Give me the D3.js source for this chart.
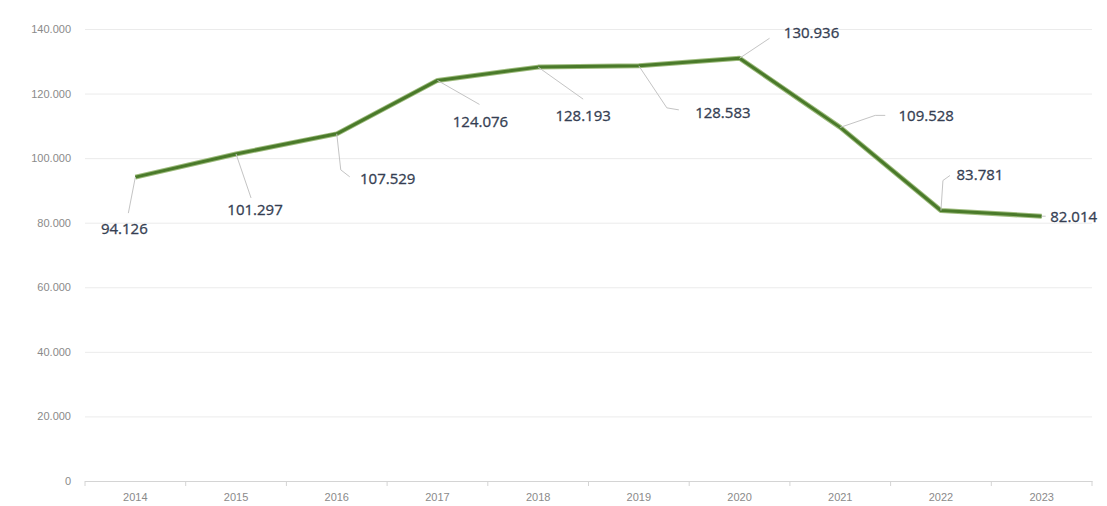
<!DOCTYPE html>
<html>
<head>
<meta charset="utf-8">
<script src="https://cdn.jsdelivr.net/npm/d3@7"></script>
<style>
  html, body { margin: 0; padding: 0; background: #fff; overflow: hidden; }
</style>
</head>
<body>
<div id="chart"></div>
<script>
// Data
const years = ["2014", "2015", "2016", "2017", "2018", "2019", "2020", "2021", "2022", "2023"];
const values = [94126, 101297, 107529, 124076, 128193, 128583, 130936, 109528, 83781, 82014];
const yTicks = [0, 20000, 40000, 60000, 80000, 100000, 120000, 140000];

// Layout config
const width = 1107;
const height = 506;
const margin = { top: 29, right: 15, bottom: 25, left: 85 };

// label placement relative to the point: [dx, dy] of text centre, leader polyline offsets
const labelLayout = [
    { dx: -11, dy: 53, leader: [[0, 0], [-7, 36]] },
    { dx: 19, dy: 57, leader: [[0, 0], [15, 44]] },
    { dx: 51, dy: 46, leader: [[0, 0], [4, 36], [13, 43]] },
    { dx: 43, dy: 43, leader: [[0, 0], [42, 24]] },
    { dx: 45, dy: 50, leader: [[0, 0], [45, 32]] },
    { dx: 84, dy: 48, leader: [[0, 0], [28, 42], [40, 44]] },
    { dx: 72, dy: -24, leader: [[0, 0], [30, -20]] },
    { dx: 86, dy: -10, leader: [[0, 0], [35, -12], [45, -12]] },
    { dx: 39, dy: -35, leader: [[0, 0], [2, -30], [9, -35]] },
    { dx: 32, dy: 2, leader: [[0, 0], [4, 0]] }
];

const svg = d3.select("#chart")
    .append("svg")
    .attr("width", width)
    .attr("height", height)
    .attr("font-family", "'Open Sans', 'Liberation Sans', sans-serif");

const x = d3.scaleBand()
    .domain(years)
    .range([margin.left, width - margin.right]);

const y = d3.scaleLinear()
    .domain([0, 140000])
    .range([height - margin.bottom, margin.top]);

const fmt = v => d3.format(",")(v).replace(/,/g, ".");

// Gridlines + y labels
const yAxis = svg.append("g")
    .attr("transform", `translate(${margin.left},0)`)
    .call(d3.axisLeft(y)
        .tickValues(yTicks)
        .tickSize(-(width - margin.left - margin.right))
        .tickPadding(14)
        .tickFormat(d => d === 0 ? "0" : fmt(d)));

yAxis.select(".domain").remove();
yAxis.selectAll(".tick line")
    .attr("stroke", d => d === 0 ? "#d4d4d4" : "#ebebeb")
    .attr("stroke-width", 1);
yAxis.selectAll(".tick text")
    .attr("fill", "#8a8a8a")
    .attr("font-size", 11);

// X axis
const xAxis = svg.append("g")
    .attr("transform", `translate(0,${y(0)})`)
    .call(d3.axisBottom(x).tickSize(0).tickPadding(12));
xAxis.select(".domain").attr("stroke", "#d4d4d4");
xAxis.selectAll(".tick text")
    .attr("fill", "#8a8a8a")
    .attr("font-size", 11);

// Small ticks on band boundaries
svg.append("g")
    .selectAll("line")
    .data(years.concat(["end"]))
    .join("line")
    .attr("x1", (d, i) => margin.left + i * x.step())
    .attr("x2", (d, i) => margin.left + i * x.step())
    .attr("y1", y(0))
    .attr("y2", y(0) + 5)
    .attr("stroke", "#d4d4d4");

const cx = (d, i) => x(years[i]) + x.bandwidth() / 2;

// Line
const line = d3.line()
    .x((d, i) => cx(d, i))
    .y(d => y(d));

svg.append("path")
    .datum(values)
    .attr("fill", "none")
    .attr("stroke", "#9dbb7c")
    .attr("stroke-width", 5)
    .attr("stroke-linejoin", "round")
    .attr("d", line);

svg.append("path")
    .datum(values)
    .attr("fill", "none")
    .attr("stroke", "#4a7a2a")
    .attr("stroke-width", 3)
    .attr("stroke-linejoin", "round")
    .attr("d", line);

// Leader lines
svg.append("g")
    .selectAll("path")
    .data(values)
    .join("path")
    .attr("fill", "none")
    .attr("stroke", "#c4c4c4")
    .attr("stroke-width", 1)
    .attr("d", (d, i) => {
        const px = cx(d, i), py = y(d);
        return d3.line()(labelLayout[i].leader.map(([a, b]) => [px + a, py + b]));
    });

// Value labels
svg.append("g")
    .selectAll("text")
    .data(values)
    .join("text")
    .attr("x", (d, i) => cx(d, i) + labelLayout[i].dx)
    .attr("y", (d, i) => y(d) + labelLayout[i].dy)
    .attr("text-anchor", "middle")
    .attr("dominant-baseline", "middle")
    .attr("font-size", 15)
    .attr("fill", "#353e52")
    .attr("stroke", "#353e52")
    .attr("stroke-width", 0.3)
    .text(d => fmt(d));
</script>
</body>
</html>
